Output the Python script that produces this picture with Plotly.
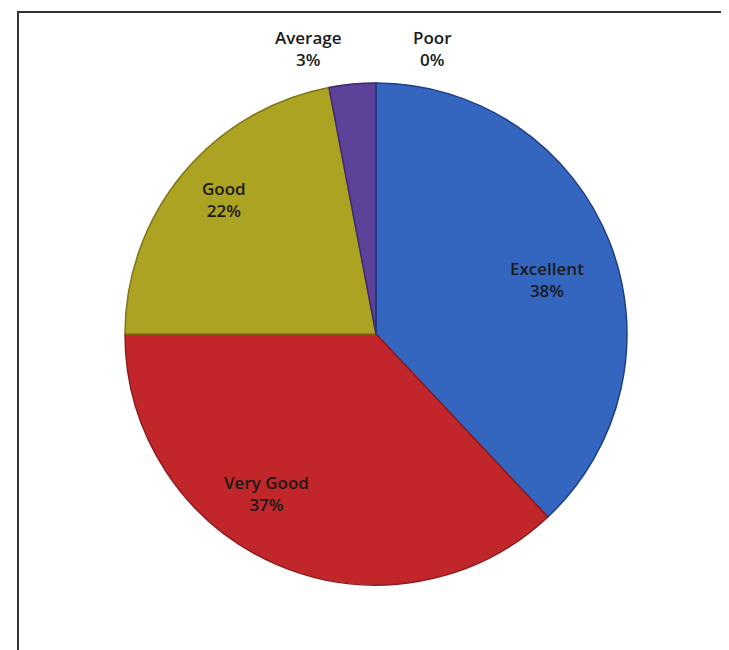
import plotly.graph_objects as go

categories = ["Excellent", "Very Good", "Good", "Average", "Poor"]
values = [38, 37, 22, 3, 0]
colors = ["#3566bf", "#c1262b", "#aca323", "#5d4299", "#2f5fb0"]
edge_colors = ["#1d3f86", "#8f1a1e", "#7d7615", "#3e2a70", "#1d3f86"]

# page offset of the plot in the browser (body margin)
OFF = 8

# label anchor positions (pixels in the 729x650 reference frame)
label_px = {
    "Excellent": (547, 279),
    "Very Good": (266, 493),
    "Good": (224, 200),
    "Average": (308, 48),
    "Poor": (432, 48),
}

W, H = 729, 650
cx, cy, r = 376 - OFF, 334 - OFF, 251

fig = go.Figure(go.Pie(
    labels=categories,
    values=values,
    sort=False,
    direction="clockwise",
    rotation=0,
    textinfo="none",
    hoverinfo="label+percent",
    marker=dict(colors=colors, line=dict(color=edge_colors, width=1.5)),
    showlegend=False,
    domain=dict(x=[(cx - r) / W, (cx + r) / W], y=[1 - (cy + r) / H, 1 - (cy - r) / H]),
))

total = sum(values)
annotations = []
for cat, val in zip(categories, values):
    px, py = label_px[cat]
    px -= OFF
    py -= OFF
    pct = round(100 * val / total)
    annotations.append(dict(
        x=px / W, y=1 - py / H, xref="paper", yref="paper",
        text=f"{cat}<br>{pct}%", showarrow=False,
        font=dict(family="Open Sans", size=17, color="#1a1a1a", weight=600),
        align="center", xanchor="center", yanchor="middle",
    ))

fig.update_layout(
    width=W, height=H,
    margin=dict(l=0, r=0, t=0, b=0),
    paper_bgcolor="white",
    plot_bgcolor="white",
    annotations=annotations,
    shapes=[dict(type="rect", xref="paper", yref="paper",
                 x0=(18 - OFF) / W, x1=1.05, y0=-0.05, y1=1 - (12 - OFF) / H,
                 line=dict(color="#333333", width=2))],
)

fig.write_html("out.html")
